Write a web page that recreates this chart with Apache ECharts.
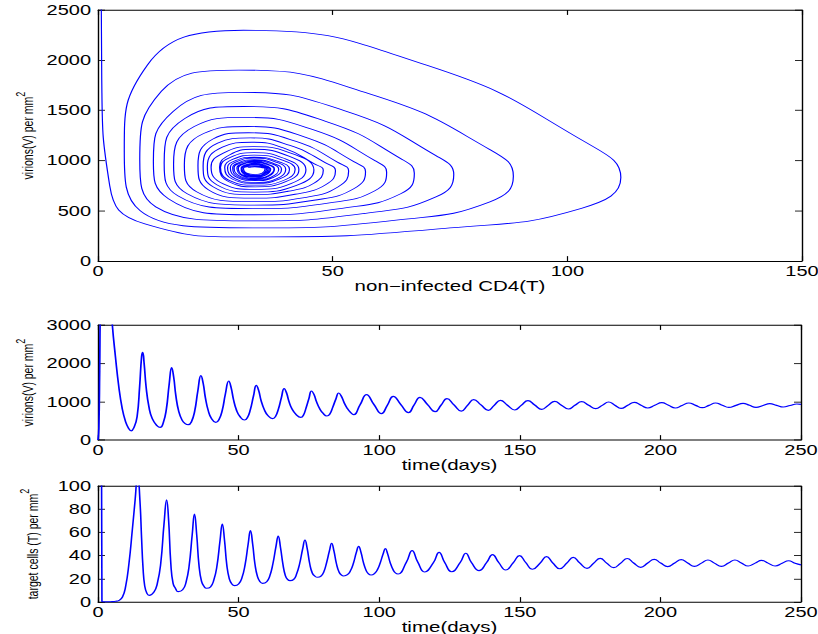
<!DOCTYPE html>
<html>
<head>
<meta charset="utf-8">
<script src="https://cdn.jsdelivr.net/npm/echarts/dist/echarts.min.js"></script>
<style>
html, body { margin: 0; padding: 0; background: #fff; overflow: hidden; }
#frame { width: 818px; height: 634px; overflow: hidden; }
/* the figure is laid out tall and then pressed to 0.7 of its height */
#chart { width: 818px; height: 906px; transform: scaleY(0.7); transform-origin: 0 0; }
</style>
</head>
<body>
<div id="frame"><div id="chart"></div></div>
<script>
// Phase trajectory: [T (non-infected CD4), V (virions)], one row per turn of the spiral
const phasePath = [
  [0.6,3300],[0.8,1800],[2.5,750],[10,370],[32.4,240],
  [75,330],[103,525],[111.4,831],[104,1180],[70,1950],[31,2298],[10.5,1950],[5.6,1100],[9,500],[33,330],
  [64,410],[83.5,590],[88.5,845],[83.5,1110],[57.7,1667],[30,1902],[13.5,1690],[8.9,1010],[12.3,540],[33,400],
  [57,475],[72,638],[75.8,862],[72,1050],[52.3,1501],[30.5,1680],[16,1490],[11.8,990],[15,620],[33,461],
  [52,525],[64.5,670],[67.4,874],[64.5,1020],[48.5,1392],[31,1539],[18.5,1420],[14.1,975],[17,650],[33,522],
  [49,577],[59,700],[61.5,884],[59,1000],[45.8,1308],[31.5,1430],[20.5,1340],[16.1,965],[19,670],[33,557],
  [46,605],[54.5,720],[57,890],[54.5,990],[43.8,1239],[32,1340],[22.5,1270],[18.4,958],[21,690],[33,591],
  [44,632],[51.2,740],[53.4,896],[51,985],[42.2,1191],[32,1278],[24.5,1215],[21.3,950],[23.5,710],[33,626],
  [42,665],[48.5,760],[50.6,900],[48.4,980],[40.9,1151],[32.5,1226],[25.5,1175],[22.4,945],[24.5,740],[33.2,661],
  [40.5,695],[46,775],[48,904],[46,970],[39.9,1119],[32.8,1183],[26.5,1135],[23.3,942],[25.3,760],[33.3,687],
  [42.3,754],[46,906],[42,1059],[33,1139],[26.7,1075],[24.1,935],[26.7,768],[33.5,713],
  [41.1,772],[44.3,908],[40.8,1042],[33,1113],[28,1056],[25.9,933],[28,787],[33.5,739],
  [40,790],[42.8,910],[39.8,1020],[33.2,1080],[28.2,1032],[26.1,932],[28.2,799],[33.5,756],
  [39.5,802],[42,911],[39.3,1004],[33.2,1055],[28.8,1014],[27,931],[28.8,812],[33.5,774],
  [38.6,815],[40.8,912],[38.5,991],[33.2,1035],[29.3,1000],[27.6,930],[29.3,819],[33.5,783],
  [38.1,821],[40,913],[37.9,985],[33.3,1026],[29.7,993],[28.2,929],[29.7,831],[33.5,800],
  [37.4,833],[39.1,914],[37.3,974],[33.3,1009],[30,981],[28.7,928],[30,837],[33.5,809],
  [37,839],[38.5,915],[36.9,969],[33.3,1000],[30.3,975],[29,927],[30.3,843],[33.5,817],
  [36.4,845],[37.6,915],[36.3,963],[33.3,991],[30.7,968],[29.6,926],[30.7,850],[33.5,826],
  [36.3,851],[37.5,916],[36.2,958],[33.3,983],[30.9,963],[29.9,925],[30.9,856],[33.5,835],
  [35.8,857],[36.8,916],[35.7,952],[33.3,974],[31.3,956],[30.5,925],[31.3,857],[33.5,835],
  [35.6,857],[36.5,917],[35.5,946],[33.4,965],[31.5,950],[30.7,925],[31.5,862],[33.5,843],
  [35.4,863],[36.2,917],[35.3,946],[33.4,965],[31.5,950],[30.7,924],[31.5,868],[33.5,852],
  [35.4,869],[36.2,917],[35.3,941],[33.4,957],[31.7,944],[31,924],[31.7,868],[33.5,852],
  [35.2,869],[35.9,918],[35.1,935],[33.4,948],[31.7,937],[31,923],[31.7,875],[33.5,861],
  [35,875],[35.6,918],[35,929],[33.4,939],[32.2,933],[32,930]
];

// Virions V over time: [day, V]
const virionSeries = [
  [0,0],[0.3,300],[0.6,1800],[0.9,3600],[2.5,5000],[4,4200],[5.1,3000],[6.2,2174],[7.4,1391],[8.6,826],[9.8,478],[10.9,300],[11.8,240],[12.8,330],[13.9,608],[14.8,1391],[15.5,2174],[15.9,2290],[16.4,2000],[17.1,1391],[18.1,870],[19.3,557],[21.1,365],[22.1,330],
  [23.2,450],[24.3,800],[25.3,1450],[26.2,1887],[26.9,1650],[27.7,1150],[28.7,750],[29.9,520],[31,430],[32.1,400],
  [33.2,470],[34.4,760],[35.5,1280],[36.6,1678],[37.4,1480],[38.2,1100],[39.2,770],[40.3,570],[41.9,461],
  [43,530],[44.2,780],[45.3,1200],[46.5,1539],[47.3,1380],[48.2,1050],[49.2,790],[50.5,610],[52.1,522],
  [53.1,580],[54.2,800],[55.3,1150],[56.3,1426],[57.1,1300],[58,1030],[59.1,800],[60.4,640],[62.1,557],
  [63.1,610],[64.2,820],[65.2,1100],[66.2,1339],[67,1240],[67.9,1010],[69,810],[70.4,670],[72.1,591],
  [73,640],[74,840],[75,1080],[75.9,1278],[76.8,1190],[77.7,1000],[78.8,820],[80,700],[81.4,626],
  [82.4,670],[83.5,860],[84.6,1070],[85.6,1226],[86.5,1150],[87.5,980],[88.6,830],[89.8,720],[90.9,661],
  [93.2,920],[95.5,1183],[98.1,930],[100.8,687],
  [102.9,910],[105,1139],[107.7,925],[110.4,713],
  [112.4,913],[114.5,1113],[117.2,925],[119.9,739],
  [122,910],[124.1,1080],[126.6,918],[129.2,756],
  [131.4,905],[133.6,1055],[136.2,915],[138.8,774],
  [140.9,905],[143.1,1035],[145.6,908],[148.2,783],
  [150.5,905],[152.9,1026],[155.3,913],[157.8,800],
  [160.1,905],[162.4,1009],[164.8,909],[167.3,809],
  [169.6,905],[172,1000],[174.5,908],[177,817],
  [179.3,904],[181.6,991],[183.8,908],[186,826],
  [188.4,905],[190.7,983],[193.1,909],[195.5,835],
  [198,905],[200.5,974],[202.9,905],[205.3,835],
  [207.7,900],[210.1,965],[212.5,904],[214.9,843],
  [217.3,904],[219.6,965],[222,908],[224.3,852],
  [226.9,905],[229.4,957],[231.7,905],[234,852],
  [236.5,900],[238.9,948],[241.3,905],[243.7,861],
  [246.1,900],[248.5,939],[250,930]
];

// Target cells T over time: [day, T]
const targetSeries = [
  [0,400],[1.2,160],[1.4,0.5],[3,0.1],[5,0.3],[6.3,0.6],[7.5,1.4],[8.7,4.3],[9.8,13],[11,33],[12.2,62],[13.2,88],[14.1,111],[14.9,88],[15.5,55],[16,30],[16.6,14],[17.4,7.5],[18.2,5.7],
  [19.9,8.6],[21.1,16],[22.3,33],[23.5,68],[24.4,88],[25.1,71],[25.9,33],[26.7,16],[27.6,11.5],[28.5,8.9],
  [30.1,10.5],[31.3,17],[32.4,31],[33.5,58],[34.3,75.9],[35.1,58],[35.9,32],[36.8,18],[37.7,13.5],[38.6,11.8],
  [40,13],[41.2,19],[42.3,31],[43.4,53],[44.2,67.2],[45,53],[45.8,32],[46.7,20],[47.6,15.5],[48.6,14.1],
  [50,15.5],[51.2,21],[52.3,32],[53.4,50],[54.2,61.5],[55,50],[55.8,33],[56.7,22],[57.6,17.5],[58.5,16.1],
  [60,17.5],[61.1,22.5],[62.2,33],[63.3,48],[64.1,56.9],[64.9,47],[65.8,32],[66.6,23],[67.4,19.5],[68.3,18.4],
  [69.6,19.5],[70.6,24],[71.7,33],[72.8,46],[73.6,53.4],[74.4,46],[75.3,33],[76.2,25],[77.1,22.3],[78.1,21.3],
  [79.3,22.3],[80.3,26],[81.3,34],[82.3,44],[83.1,50.6],[83.9,44],[84.8,33],[85.7,26],[86.5,23.3],[87.4,22.4],
  [88.7,23.5],[89.8,27],[90.9,34],[91.9,43],[92.7,48],[93.5,43],[94.4,34],[95.3,27.5],[96.2,24.3],[97.1,23.3],
  [98.3,24.5],[99.4,28],[100.4,34],[101.4,41.5],[102.2,46],[103,41.5],[103.9,34],[104.9,28],[105.8,25],[106.7,24.1],
  [109.7,34.5],[111.7,44.3],[113.7,34.5],[116.2,25.9],
  [119.3,34],[121.3,42.8],[123.3,34],[125.8,26.1],
  [128.8,34],[130.8,42],[132.8,34],[135.5,27],
  [138.2,34],[140.3,40.8],[142.5,34],[145,27.6],
  [147.7,34],[149.9,40],[152.1,34],[154.5,28.2],
  [157.3,33.8],[159.5,39.1],[161.7,33.8],[164.2,28.7],
  [166.8,33.7],[169,38.5],[171.3,33.7],[173.9,29],
  [176.3,33.5],[178.6,37.6],[180.9,33.5],[183.4,29.6],
  [185.9,33.6],[188.2,37.5],[190.5,33.6],[193,29.9],
  [195.5,33.6],[197.8,36.8],[200.1,33.6],[202.6,30.5],
  [205.1,33.6],[207.4,36.5],[209.7,33.6],[212.1,30.7],
  [214.6,33.5],[216.9,36.2],[219.2,33.5],[221.7,30.7],
  [224.2,33.6],[226.5,36.2],[228.8,33.6],[231.2,31],
  [233.7,33.5],[236,35.9],[238.3,33.5],[240.8,31],
  [243.3,33.4],[245.6,35.6],[247.9,33.4],[250,32]
];

// Axis ranges: [min, max, interval]
const phaseXRange = [0, 150, 50];
const phaseYRange = [0, 2500, 500];
const timeRange = [0, 250, 50];
const virionRange = [0, 3000, 1000];
const targetRange = [0, 100, 20];

const FONT = 'Liberation Sans, Arial, Helvetica, sans-serif';
const LABEL_STYLE = { color: '#000', fontSize: 20, fontFamily: FONT, formatter: v => String(v) };
const AXIS_LINE = { show: true, onZero: false, lineStyle: { color: '#000', width: 1.4 } };
const AXIS_TICK = { show: true, inside: true, length: 7, lineStyle: { color: '#000', width: 1.2 } };

// grid boxes in the unpressed (tall) layout; labels may run to the page edge
const gridBox = { containLabel: false, outerBoundsMode: 'none' };
const grids = [
  Object.assign({ left: 98, top: 14.3, width: 704, height: 358.6 }, gridBox),
  Object.assign({ left: 98, top: 464.3, width: 703, height: 164.3 }, gridBox),
  Object.assign({ left: 98, top: 694.3, width: 703, height: 165.7 }, gridBox)
];

function xAxes(gridIndex, range, name) {
  const base = {
    type: 'value', gridIndex, min: range[0], max: range[1], interval: range[2],
    axisLine: AXIS_LINE, axisTick: AXIS_TICK, splitLine: { show: false }
  };
  return [
    Object.assign({}, base, {
      position: 'bottom', name,
      nameLocation: 'middle', nameGap: 19,
      nameTextStyle: { color: '#000', fontSize: 20.5, fontFamily: FONT },
      axisLabel: Object.assign({ margin: 4, showMaxLabel: true, showMinLabel: true }, LABEL_STYLE)
    }),
    Object.assign({}, base, { position: 'top', axisLabel: { show: false } })
  ];
}

function yAxes(gridIndex, range, nameMain) {
  const base = {
    type: 'value', gridIndex, min: range[0], max: range[1], interval: range[2],
    axisLine: AXIS_LINE, axisTick: AXIS_TICK, splitLine: { show: false }
  };
  return [
    Object.assign({}, base, {
      position: 'left',
      name: '{b|' + nameMain + '}{s|2}',
      nameLocation: 'middle', nameGap: 58,
      nameTextStyle: {
        rich: {
          b: { fontSize: 15, fontFamily: FONT, color: '#000', lineHeight: 22, verticalAlign: 'bottom' },
          s: { fontSize: 13, fontFamily: FONT, color: '#000', lineHeight: 13, verticalAlign: 'top' }
        }
      },
      axisLabel: Object.assign({ margin: 7 }, LABEL_STYLE)
    }),
    Object.assign({}, base, { position: 'right', axisLabel: { show: false } })
  ];
}

const xAxis = [].concat(
  xAxes(0, phaseXRange, 'non\u2212infected CD4(T)'),
  xAxes(1, timeRange, 'time(days)'),
  xAxes(2, timeRange, 'time(days)')
);
const yAxis = [].concat(
  yAxes(0, phaseYRange, 'virions(V) per mm'),
  yAxes(1, virionRange, 'virions(V) per mm'),
  yAxes(2, targetRange, 'target cells (T) per mm')
);

const lineBase = {
  type: 'line', showSymbol: false, clip: true, animation: false,
  itemStyle: { color: '#0000ff' }
};

const option = {
  backgroundColor: '#fff',
  animation: false,
  grid: grids,
  xAxis, yAxis,
  series: [
    Object.assign({}, lineBase, {
      xAxisIndex: 0, yAxisIndex: 0, data: phasePath, smooth: 0.5,
      lineStyle: { color: '#0000ff', width: 1.2 }
    }),
    Object.assign({}, lineBase, {
      xAxisIndex: 2, yAxisIndex: 2, data: virionSeries, smooth: 0.5,
      lineStyle: { color: '#0000ff', width: 1.7 }
    }),
    Object.assign({}, lineBase, {
      xAxisIndex: 4, yAxisIndex: 4, data: targetSeries, smooth: 0.5,
      lineStyle: { color: '#0000ff', width: 1.6 }
    })
  ]
};

const chart = echarts.init(document.getElementById('chart'), null, { renderer: 'svg' });
chart.setOption(option);
</script>
</body>
</html>
